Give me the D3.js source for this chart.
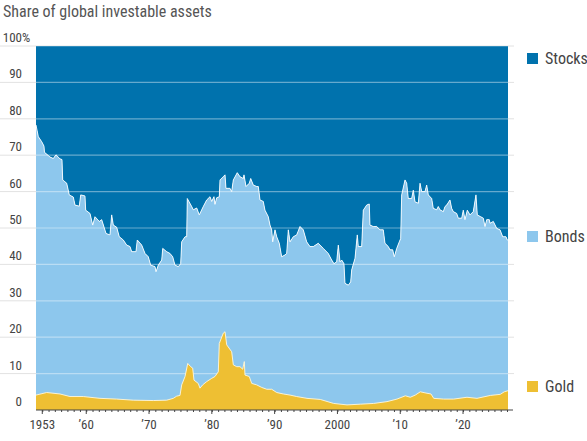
<!DOCTYPE html>
<meta charset="utf-8">
<head>
<title>Share of global investable assets</title>
<script src="https://cdnjs.cloudflare.com/ajax/libs/d3/7.8.5/d3.min.js" charset="utf-8"></script>
<style type="text/css">
body {margin: 0; background: #fff;}
text {font-family: "Liberation Sans Narrow", "Roboto Condensed", Roboto, sans-serif; fill: #444;}
</style>
</head>
<body>
<script>
// Stocks share (%), with the year of each reading
var stockYears = [
  1952.00, 1952.37, 1952.91, 1953.27, 1953.35, 1954.23, 1954.75, 1955.18, 1955.82, 1956.14,
  1956.25, 1956.89, 1957.30, 1957.94, 1958.21, 1958.89, 1959.12, 1959.80, 1959.91, 1960.60,
  1961.03, 1961.39, 1962.08, 1962.46, 1963.15, 1963.78, 1964.05, 1964.31, 1964.85, 1965.26,
  1965.90, 1966.44, 1966.97, 1967.24, 1967.92, 1968.13, 1968.83, 1969.36, 1969.88, 1970.26,
  1970.95, 1971.11, 1971.47, 1972.02, 1972.18, 1972.81, 1973.34, 1973.77, 1974.13, 1974.66,
  1975.04, 1975.20, 1975.73, 1976.00, 1976.09, 1976.79, 1977.05, 1977.59, 1978.00, 1978.64,
  1979.18, 1979.71, 1979.98, 1980.34, 1980.50, 1980.77, 1981.19, 1981.30, 1981.82, 1982.10,
  1982.25, 1982.89, 1983.16, 1983.42, 1984.05, 1984.48, 1985.01, 1985.12, 1985.44, 1985.96,
  1986.19, 1986.60, 1987.14, 1987.40, 1987.67, 1988.19, 1988.46, 1988.99, 1989.26, 1989.53,
  1989.69, 1990.06, 1990.33, 1990.74, 1991.12, 1991.65, 1991.92, 1992.18, 1992.45, 1992.97,
  1993.51, 1994.04, 1994.56, 1995.10, 1995.63, 1996.16, 1996.95, 1997.75, 1998.54, 1999.09,
  1999.45, 1999.88, 2000.14, 2000.41, 2000.68, 2001.04, 2001.20, 2001.73, 2002.11, 2002.27,
  2002.80, 2003.16, 2003.32, 2003.86, 2004.12, 2004.66, 2005.07, 2005.18, 2005.71, 2006.25,
  2006.78, 2007.30, 2007.57, 2008.10, 2008.37, 2008.80, 2009.05, 2009.44, 2009.85, 2010.07,
  2010.23, 2010.76, 2011.03, 2011.28, 2011.82, 2012.08, 2012.35, 2012.88, 2013.15, 2013.42,
  2013.94, 2014.21, 2014.47, 2015.01, 2015.26, 2015.80, 2016.06, 2016.33, 2016.86, 2017.13,
  2017.40, 2017.92, 2018.19, 2018.45, 2018.99, 2019.25, 2019.79, 2020.04, 2020.31, 2020.68,
  2021.11, 2021.63, 2022.06, 2022.27, 2022.81, 2023.23, 2023.50, 2023.77, 2024.18, 2024.29,
  2024.82, 2025.36, 2025.89, 2026.32, 2026.84, 2027.05, 2027.16
];
var stockShare = [
  21.7, 24.9, 26.3, 27.5, 29.2, 30.5, 30.9, 29.9, 31.0, 31.2,
  36.8, 37.7, 40.9, 41.5, 43.7, 44.0, 40.9, 41.2, 45.1, 46.0,
  49.2, 46.9, 48.2, 47.7, 51.5, 51.9, 46.4, 49.2, 49.8, 52.4,
  53.3, 54.7, 55.1, 56.5, 56.5, 53.3, 54.7, 57.0, 57.9, 60.2,
  60.6, 62.0, 60.2, 58.8, 55.6, 56.5, 57.0, 57.9, 60.2, 60.6,
  59.8, 53.8, 52.4, 52.4, 41.9, 44.1, 45.0, 44.5, 46.4, 44.1,
  42.3, 41.4, 42.7, 41.4, 43.5, 41.7, 41.4, 36.8, 35.9, 35.4,
  39.1, 39.1, 40.0, 36.8, 34.8, 35.9, 36.4, 35.4, 38.6, 37.7,
  36.4, 38.2, 38.6, 38.6, 42.3, 42.7, 45.1, 46.9, 49.2, 50.5,
  53.8, 50.5, 52.4, 54.2, 57.9, 57.4, 57.0, 50.5, 53.8, 52.4,
  51.9, 49.6, 50.5, 53.8, 55.1, 55.1, 54.2, 55.6, 57.0, 58.8,
  59.8, 59.3, 54.7, 59.3, 58.8, 59.8, 65.2, 65.7, 64.8, 61.5,
  58.3, 51.9, 55.1, 55.1, 45.1, 43.7, 43.4, 49.2, 49.6, 49.6,
  50.5, 50.5, 54.2, 55.1, 56.0, 56.0, 57.9, 55.6, 53.8, 52.9,
  40.9, 36.8, 37.7, 41.9, 41.9, 39.6, 42.8, 43.2, 37.7, 40.0,
  40.0, 38.2, 40.9, 41.9, 44.6, 45.0, 44.1, 45.0, 45.5, 44.1,
  43.7, 42.3, 44.6, 45.5, 46.0, 47.3, 47.3, 45.1, 47.7, 45.1,
  46.4, 45.5, 40.9, 46.4, 46.9, 47.3, 49.6, 47.7, 47.7, 48.7,
  48.2, 50.1, 50.5, 52.4, 52.4, 53.3, 53.3
];

// Gold share (%)
var goldYears = [
  1952.00, 1953.70, 1955.82, 1957.41, 1959.53, 1962.19, 1964.85, 1967.49, 1970.68, 1972.81,
  1973.86, 1974.40, 1974.93, 1975.20, 1975.73, 1976.16, 1976.63, 1976.95, 1977.16, 1977.84,
  1978.11, 1978.54, 1979.18, 1979.98, 1980.50, 1981.03, 1981.19, 1981.82, 1982.10, 1982.37,
  1983.16, 1983.42, 1983.96, 1984.48, 1984.91, 1985.17, 1985.28, 1985.96, 1986.35, 1987.14,
  1987.94, 1988.74, 1989.53, 1990.33, 1991.38, 1992.45, 1993.51, 1995.15, 1997.27, 1999.40,
  2001.52, 2003.64, 2005.77, 2007.89, 2009.48, 2010.81, 2011.60, 2012.40, 2013.19, 2014.26,
  2014.90, 2015.33, 2016.92, 2018.51, 2020.63, 2022.22, 2024.34, 2025.93, 2026.57, 2027.16
];
var goldShare = [
  4.1, 4.8, 4.4, 3.7, 3.7, 3.2, 3.0, 2.7, 2.6, 2.7,
  3.2, 3.8, 4.0, 6.9, 9.2, 12.8, 11.9, 11.5, 8.2, 7.3,
  6.0, 6.9, 7.8, 8.7, 9.2, 10.5, 18.3, 21.1, 21.5, 17.9,
  16.0, 12.4, 11.9, 11.9, 11.2, 13.3, 9.6, 9.2, 7.3, 6.9,
  6.2, 5.7, 5.7, 4.8, 4.4, 4.1, 3.7, 3.2, 2.9, 1.8,
  1.4, 1.6, 1.8, 2.3, 3.0, 3.9, 3.5, 4.1, 5.0, 4.6,
  4.4, 3.2, 3.0, 3.0, 3.5, 3.2, 4.0, 4.3, 5.0, 5.3
];

var legendLabels = ["Stocks", "Bonds", "Gold"];
var yTicks = [0, 10, 20, 30, 40, 50, 60, 70, 80, 90, 100];
var xMajor = [1953, 1960, 1970, 1980, 1990, 2000, 2010, 2020];
var xMajorLabels = ["1953", "\u201960", "\u201970", "\u201980", "\u201990", "2000", "\u201910", "\u201920"];

// Layout
var width = 587, height = 441,
    plotLeft = 36, plotRight = 508, plotTop = 46, plotBottom = 410;
var colors = {Stocks: "#0072ad", Bonds: "#8dc7ed", Gold: "#eebf33"};

var svg = d3.select("body").append("svg")
  .attr("width", width)
  .attr("height", height);

var x = d3.scaleLinear().domain([1952, 2027.16]).range([plotLeft, plotRight]);
var y = d3.scaleLinear().domain([0, 100]).range([plotBottom, plotTop]);

var stocks = stockYears.map((yr, i) => ({year: yr, v: stockShare[i]}));
var gold = goldYears.map((yr, i) => ({year: yr, v: goldShare[i]}));

// title
svg.append("text")
  .attr("x", 3).attr("y", 17)
  .style("font-size", "16px")
  .style("fill", "#555")
  .text("Share of global investable assets");

// gridlines outside plot (light gray)
svg.append("g").selectAll("line")
  .data(yTicks.filter(d => d > 0))
  .enter().append("line")
  .attr("x1", 0).attr("x2", plotRight + 6)
  .attr("y1", d => y(d)).attr("y2", d => y(d))
  .style("stroke", "#e2e2e2").style("stroke-width", 1);

// stocks: from stock boundary up to 100
svg.append("path")
  .datum(stocks)
  .attr("d", d3.area().x(d => x(d.year)).y0(y(100)).y1(d => y(100 - d.v)))
  .style("fill", colors.Stocks);

// bonds: everything under the stock boundary (gold drawn over it)
svg.append("path")
  .datum(stocks)
  .attr("d", d3.area().x(d => x(d.year)).y0(y(0)).y1(d => y(100 - d.v)))
  .style("fill", colors.Bonds);

// gridlines over the plot
svg.append("g").selectAll("line")
  .data(yTicks.filter(d => d > 0))
  .enter().append("line")
  .attr("x1", plotLeft).attr("x2", plotRight)
  .attr("y1", d => y(d)).attr("y2", d => y(d))
  .style("stroke", "#fff").style("stroke-opacity", 0.4).style("stroke-width", 1.2);

// gold
svg.append("path")
  .datum(gold)
  .attr("d", d3.area().x(d => x(d.year)).y0(y(0)).y1(d => y(d.v)))
  .style("fill", colors.Gold);

// boundary lines
svg.append("path")
  .datum(stocks)
  .attr("d", d3.line().x(d => x(d.year)).y(d => y(100 - d.v)))
  .style("fill", "none").style("stroke", "#fff").style("stroke-opacity", 0.85).style("stroke-width", 1);
svg.append("path")
  .datum(gold)
  .attr("d", d3.line().x(d => x(d.year)).y(d => y(d.v)))
  .style("fill", "none").style("stroke", "#fff7dc").style("stroke-opacity", 0.9).style("stroke-width", 1);

// y labels
svg.append("g").selectAll("text")
  .data(yTicks)
  .enter().append("text")
  .attr("x", 22).attr("y", d => y(d) - 4)
  .attr("text-anchor", "end")
  .style("font-size", "13px")
  .text(d => d);
svg.append("text")
  .attr("x", 22).attr("y", y(100) - 4)
  .style("font-size", "13px")
  .text("%");

// x axis: minor ticks every year
var xAxis = d3.axisBottom(x)
  .tickValues(d3.range(1953, 2028))
  .tickSize(2)
  .tickFormat("");
var ax = svg.append("g")
  .attr("transform", "translate(0," + plotBottom + ")")
  .call(xAxis);
ax.select(".domain").remove();
ax.selectAll(".tick line").style("stroke", "#444");
svg.append("line")
  .attr("x1", plotLeft).attr("x2", plotRight + 5)
  .attr("y1", plotBottom).attr("y2", plotBottom)
  .style("stroke", "#444").style("stroke-width", 1);

var major = svg.append("g").selectAll("g")
  .data(xMajor)
  .enter().append("g")
  .attr("transform", d => "translate(" + x(d) + "," + plotBottom + ")");
major.append("line")
  .attr("y1", 0).attr("y2", 4)
  .style("stroke", "#444");
major.append("text")
  .attr("y", 19)
  .attr("text-anchor", "middle")
  .style("font-size", "13px")
  .text((d, i) => xMajorLabels[i]);

// legend
var legendY = [64, 242, 392];
var lg = svg.append("g").selectAll("g")
  .data(legendLabels)
  .enter().append("g")
  .attr("transform", (d, i) => "translate(527," + legendY[i] + ")");
lg.append("rect")
  .attr("x", 0).attr("y", -11)
  .attr("width", 11).attr("height", 11)
  .style("fill", d => colors[d]);
lg.append("text")
  .attr("x", 18).attr("y", 0)
  .style("font-size", "16px")
  .text(d => d);
</script>
</body>
